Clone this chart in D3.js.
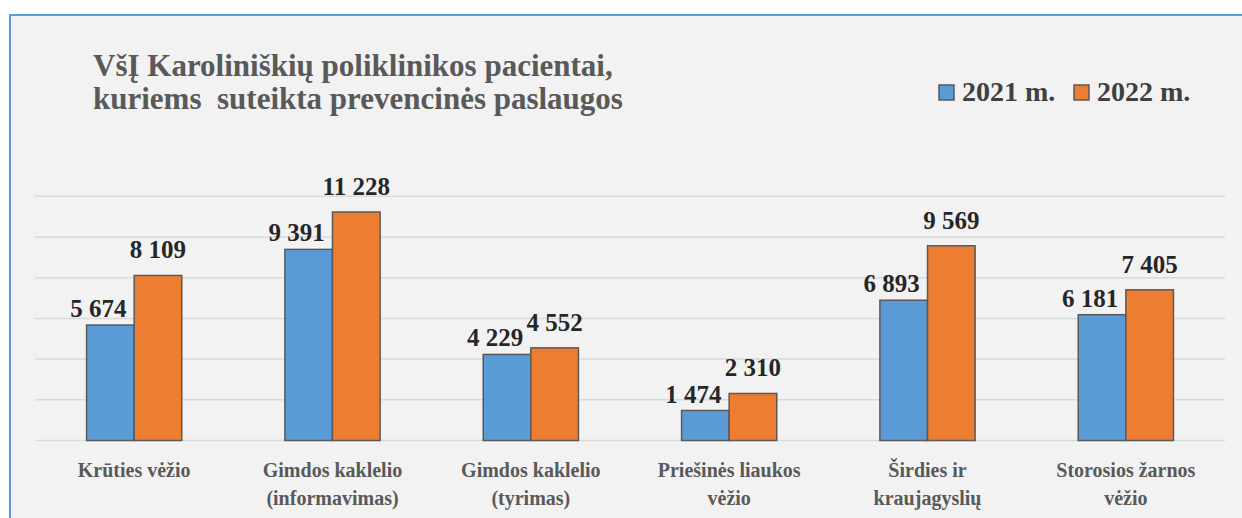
<!DOCTYPE html>
<html>
<head>
    <meta charset="utf-8">
    <title>VšĮ Karoliniškių poliklinikos pacientai</title>
    <script src="https://d3js.org/d3.v7.min.js"></script>
    <style>
        body { margin: 0; background: #ffffff; }
        svg text { font-family: "Liberation Serif", "Tinos", "Times New Roman", "DejaVu Serif", serif; }
        .value-label { font-size: 25px; font-weight: bold; fill: #262626; }
        .cat-label { font-size: 20px; font-weight: bold; fill: #595959; text-anchor: middle; }
    </style>
</head>
<body>
<script>
    // data
    var categories = [
        ["Krūties vėžio"],
        ["Gimdos kaklelio", "(informavimas)"],
        ["Gimdos kaklelio", "(tyrimas)"],
        ["Priešinės liaukos", "vėžio"],
        ["Širdies ir", "kraujagyslių"],
        ["Storosios žarnos", "vėžio"]
    ];
    var seriesNames = ["2021 m.", "2022 m."];
    var values2021 = [5674, 9391, 4229, 1474, 6893, 6181];
    var values2022 = [8109, 11228, 4552, 2310, 9569, 7405];
    var yTicks = [0, 2000, 4000, 6000, 8000, 10000, 12000];
    var titleLines = ["VšĮ Karoliniškių poliklinikos pacientai,", "kuriems  suteikta prevencinės paslaugos"];

    var colors = ["#5b9bd5", "#ed7d31"];
    var width = 1242, height = 518;
    var serif = "'Liberation Serif', 'Tinos', 'Times New Roman', 'DejaVu Serif', serif";

    var svg = d3.select("body").append("svg")
        .attr("width", width)
        .attr("height", height)
        .attr("font-family", serif);

    // chart area with blue frame (runs off the right and bottom edge)
    svg.append("rect")
        .attr("x", 10).attr("y", 15)
        .attr("width", width + 20).attr("height", height + 20)
        .attr("fill", "#f2f2f2")
        .attr("stroke", "#5b9bd5")
        .attr("stroke-width", 2);

    var catKeys = categories.map(function(c) { return c.join(" "); });

    var x = d3.scaleBand()
        .domain(catKeys)
        .range([35, 1225])
        .paddingInner(0.52)
        .paddingOuter(0.26);

    var xInner = d3.scaleBand()
        .domain(seriesNames)
        .range([0, x.bandwidth()]);

    var y = d3.scaleLinear()
        .domain([0, 12000])
        .range([440.5, 196.3]);

    // gridlines
    svg.append("g")
        .selectAll("line")
        .data(yTicks)
        .enter().append("line")
        .attr("x1", 35).attr("x2", 1225)
        .attr("y1", function(d) { return y(d); })
        .attr("y2", function(d) { return y(d); })
        .attr("stroke", "#d9d9d9")
        .attr("stroke-width", 1.5);

    var rows = catKeys.map(function(k, i) {
        return { key: k, vals: [values2021[i], values2022[i]] };
    });

    var groups = svg.selectAll(".grp")
        .data(rows)
        .enter().append("g")
        .attr("class", "grp")
        .attr("transform", function(d) { return "translate(" + x(d.key) + ",0)"; });

    groups.selectAll("rect")
        .data(function(d) { return d.vals.map(function(v, j) { return { s: seriesNames[j], v: v, j: j }; }); })
        .enter().append("rect")
        .attr("x", function(d) { return xInner(d.s); })
        .attr("width", xInner.bandwidth())
        .attr("y", function(d) { return y(d.v); })
        .attr("height", function(d) { return y(0) - y(d.v); })
        .attr("fill", function(d) { return colors[d.j]; })
        .attr("stroke", "#595959")
        .attr("stroke-width", 1.5);

    var fmt = function(v) { return d3.format(",")(v).replace(/,/g, " "); };

    // data labels: 2021 nudged left and lower, 2022 centred above
    groups.selectAll(".value-label")
        .data(function(d) { return d.vals.map(function(v, j) { return { s: seriesNames[j], v: v, j: j }; }); })
        .enter().append("text")
        .attr("class", "value-label")
        .attr("text-anchor", "middle")
        .attr("x", function(d) { return xInner(d.s) + xInner.bandwidth() / 2 + (d.j === 0 ? -12 : 0); })
        .attr("y", function(d) { return y(d.v) - (d.j === 0 ? 8 : 17); })
        .text(function(d) { return fmt(d.v); });

    // category labels
    var catText = svg.append("g").selectAll("text")
        .data(categories)
        .enter().append("text")
        .attr("class", "cat-label")
        .attr("x", function(d) { return x(d.join(" ")) + x.bandwidth() / 2; })
        .attr("y", 477);
    catText.selectAll("tspan")
        .data(function(d) { return d; })
        .enter().append("tspan")
        .attr("x", function() { return d3.select(this.parentNode).attr("x"); })
        .attr("dy", function(d, i) { return i === 0 ? 0 : 28; })
        .text(function(d) { return d; });

    // title
    svg.append("text")
        .attr("x", 93).attr("y", 76)
        .style("font-size", "31px").style("font-weight", "bold")
        .attr("fill", "#595959")
        .selectAll("tspan")
        .data(titleLines)
        .enter().append("tspan")
        .attr("x", 93)
        .attr("dy", function(d, i) { return i === 0 ? 0 : 33; })
        .style("white-space", "pre")
        .text(function(d) { return d; });

    // legend
    var legendX = [939, 1074];
    var legend = svg.append("g").selectAll("g")
        .data(seriesNames)
        .enter().append("g")
        .attr("transform", function(d, i) { return "translate(" + legendX[i] + ",85)"; });
    legend.append("rect")
        .attr("width", 15).attr("height", 15)
        .attr("fill", function(d, i) { return colors[i]; })
        .attr("stroke", "#595959")
        .attr("stroke-width", 1.5);
    legend.append("text")
        .attr("x", 23).attr("y", 16)
        .style("font-size", "28px").style("font-weight", "bold")
        .attr("fill", "#404040")
        .text(function(d) { return d; });
</script>
</body>
</html>
